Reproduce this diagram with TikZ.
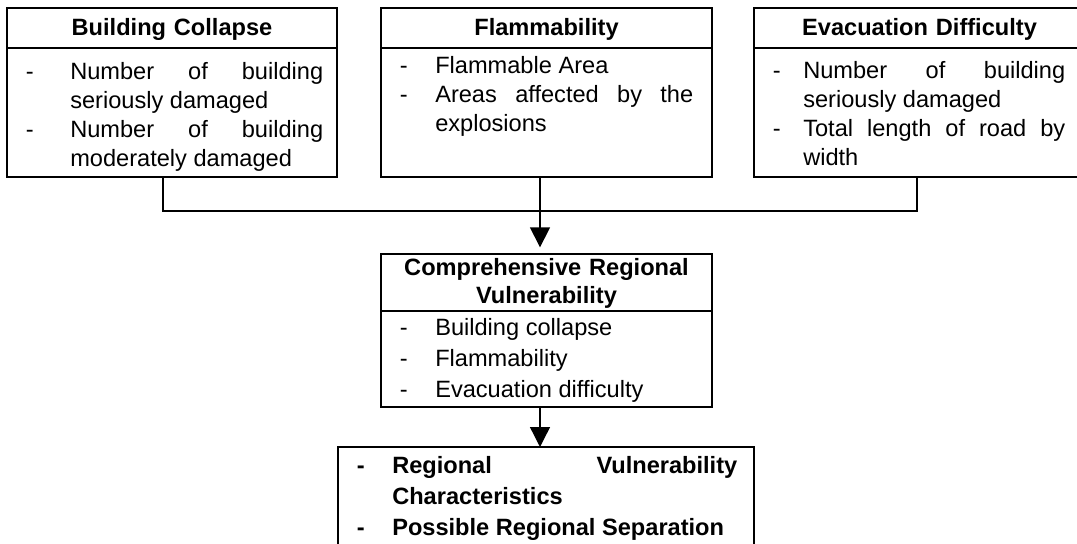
\documentclass[tikz,border=0pt]{standalone}
\usepackage{fontspec}
\setmainfont{Liberation Sans}
\usetikzlibrary{arrows.meta, positioning, calc}

\newlength{\hangw}
\newcommand{\itm}{\par\hangindent=\hangw\hangafter=1\noindent
  \makebox[\hangw][l]{\hspace{5pt}-}\ignorespaces}
% justified dash list: width, hanging indent, items
\newcommand{\dashlist}[3]{\begin{minipage}[t]{#1}\setlength{\hangw}{#2}%
  \hyphenpenalty=10000 \tolerance=9999 #3\end{minipage}}

\begin{document}
\begin{tikzpicture}[x=0.75pt, y=-0.75pt, >={Triangle[width=15pt, length=15pt]},
    box/.style={draw, line width=1.6pt, outer sep=0pt, inner sep=0pt, minimum height=126.75pt},
    head/.style={font=\fontsize{17.7}{21}\selectfont\bfseries, text width=230pt,
        align=center, inner sep=0pt, anchor=base},
    items/.style={font=\fontsize{17.7}{21.75}\selectfont, inner sep=0pt, anchor=base west},
    wide/.style={font=\fontsize{17.7}{23.25}\selectfont},
    strong/.style={font=\fontsize{17.7}{23.25}\selectfont\bfseries},
    link/.style={line width=1pt},
    flow/.style={link, ->}]

    \clip (0,0) rectangle (1077,543);

    % -------------------------------------------------------
    % 1. Frames of the three input boxes
    % -------------------------------------------------------
    \node[box, minimum width=247.5pt] (collapse) at (172,92.5) {};
    \node[box, minimum width=248.25pt] (flame) at (546.5,92.5) {};
    \node[box, minimum width=248.25pt] (evac) at (919.5,92.5) {};
    \foreach \b in {collapse, flame, evac} {
        \draw[line width=1.6pt] ([yshift=-30pt]\b.north west) -- ([yshift=-30pt]\b.north east);
    }

    \node[head] (collapse-head) at (172,35) {Building Collapse};
    \node[items] (collapse-list) at (19,79) {\dashlist{228pt}{38.25pt}{%
        \itm Number of building seriously damaged
        \itm Number of building moderately damaged}};

    \node[head] (flame-head) at (546.5,35) {Flammability};
    \node[items] (flame-list) at (393,73) {\dashlist{225pt}{31.5pt}{%
        \itm Flammable Area
        \itm Areas affected by the explosions}};

    \node[head] (evac-head) at (919.5,35) {Evacuation Difficulty};
    \node[items] (evac-list) at (766,78) {\dashlist{224.25pt}{27.75pt}{%
        \itm Number of building seriously damaged
        \itm Total length of road by width}};

    % -------------------------------------------------------
    % 2. Combined box
    % -------------------------------------------------------
    \node[box, minimum width=248.25pt, minimum height=114.75pt] (crv) at (546.5,330.5) {};
    \draw[line width=1.6pt] ([yshift=-42.75pt]crv.north west) -- ([yshift=-42.75pt]crv.north east);
    \node[head] (crv-head) at (546.5,275) {Comprehensive Regional\\Vulnerability};
    \node[items, wide] (crv-list) at (393,335) {\dashlist{225pt}{31.5pt}{%
        \itm Building collapse
        \itm Flammability
        \itm Evacuation difficulty}};

    % -------------------------------------------------------
    % 3. Result box (cut by the page edge)
    % -------------------------------------------------------
    \node[box, minimum width=312pt, minimum height=88.5pt] (result) at (546,506) {};
    \node[items, strong] (result-list) at (350,473) {\dashlist{290.25pt}{31.5pt}{%
        \itm Regional Vulnerability Characteristics
        \itm Possible Regional Separation}};

    % -------------------------------------------------------
    % 4. Connectors
    % -------------------------------------------------------
    \coordinate (join) at (540,211);
    \draw[link] ([xshift=-6.75pt]collapse.south) |- (join) -| ([xshift=-1.875pt]evac.south);
    \draw[flow, shorten >=5pt] ([xshift=-4.875pt]flame.south) -- ([xshift=-4.875pt]crv.north);
    \draw[flow] ([xshift=-4.875pt]crv.south) -- ([xshift=-4.875pt]crv.south |- result.north);
\end{tikzpicture}
\end{document}
